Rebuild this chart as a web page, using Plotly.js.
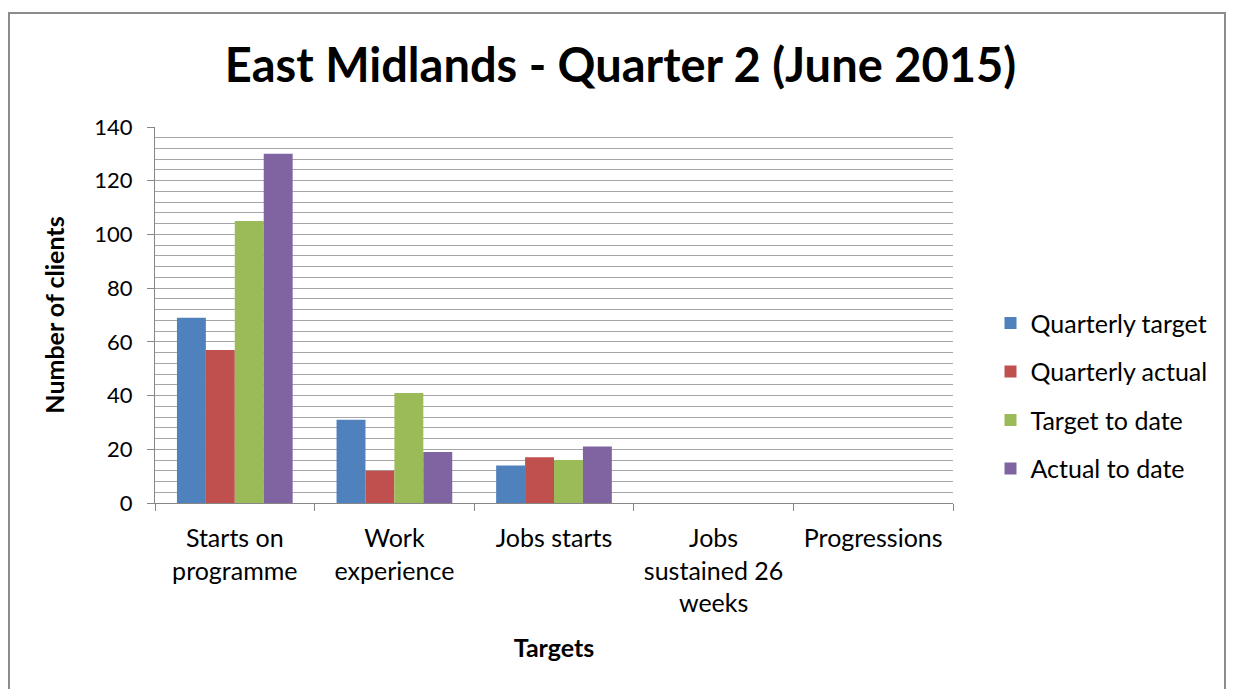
<!DOCTYPE html>
<html>
<head>
<meta charset="utf-8">
<script src="https://cdn.plot.ly/plotly-3.0.1.min.js"></script>
<style>
html, body { margin: 0; padding: 0; background: #fff; overflow: hidden; }
#frame { position: absolute; left: 8px; top: 12px; width: 1218px; height: 700px; border: 2px solid #8c8c8c; box-sizing: border-box; }
#chart { position: absolute; left: 0; top: 0; width: 1236px; height: 689px; }
</style>
</head>
<body>
<div id="frame"></div>
<div id="chart"></div>
<script>
const categories = ["Starts on<br>programme", "Work<br>experience", "Jobs starts", "Jobs<br>sustained 26<br>weeks", "Progressions"];
const seriesNames = ["Quarterly target", "Quarterly actual", "Target to date", "Actual to date"];
const quarterlyTarget = [69, 31, 14, 0, 0];
const quarterlyActual = [57, 12, 17, 0, 0];
const targetToDate = [105, 41, 16, 0, 0];
const actualToDate = [130, 19, 21, 0, 0];
const colors = ["#4f81bd", "#c0504d", "#9bbb59", "#8064a2"];
const allValues = [quarterlyTarget, quarterlyActual, targetToDate, actualToDate];

const font = "Lato, 'Open Sans', sans-serif";
const traces = allValues.map((vals, i) => ({
  type: "bar",
  name: seriesNames[i],
  x: categories,
  y: vals,
  legendgroup: "g" + i,
  marker: { color: colors[i], line: { width: 0 } },
  hoverinfo: "x+y+name"
}));

const layout = {
  width: 1236, height: 689,
  paper_bgcolor: "rgba(0,0,0,0)",
  plot_bgcolor: "#ffffff",
  margin: { l: 155, r: 283, t: 127, b: 186 },
  barmode: "group",
  bargap: 0.275,
  bargroupgap: 0,
  title: {
    text: "<b>East Midlands - Quarter 2 (June 2015)</b>",
    font: { family: font, size: 47, color: "#000" },
    x: 0.502, xanchor: "center", xref: "container",
    y: 0.905, yanchor: "middle", yref: "container"
  },
  xaxis: {
    type: "category",
    tickson: "boundaries",
    ticks: "outside", ticklen: 7, tickcolor: "#868686", tickwidth: 1,
    showline: true, linecolor: "#868686", linewidth: 1,
    showgrid: false,
    ticklabelstandoff: 13,
    tickfont: { family: font, size: 25, color: "#000" },
    title: { text: "<b>Targets</b>", font: { family: font, size: 25, color: "#000" }, standoff: 23 }
  },
  yaxis: {
    range: [0, 140],
    dtick: 20, tick0: 0,
    ticks: "outside", ticklen: 7, tickcolor: "#868686",
    showline: true, linecolor: "#868686", linewidth: 1,
    showgrid: true, gridcolor: "#a6a6a6", gridwidth: 1,
    minor: { dtick: 4, showgrid: true, gridcolor: "#a6a6a6", gridwidth: 1 },
    zeroline: false,
    ticklabelstandoff: 10,
    tickfont: { family: font, size: 22, color: "#000" },
    title: { text: "<b>Number of clients</b>", font: { family: font, size: 25, color: "#000" }, standoff: 22 }
  },
  legend: {
    x: 1.047, xanchor: "left",
    y: 0.285, yanchor: "middle",
    font: { family: font, size: 25, color: "#000" },
    traceorder: "grouped",
    tracegroupgap: 13,
    itemwidth: 30,
    bgcolor: "rgba(0,0,0,0)"
  },
  showlegend: true
};

Plotly.newPlot("chart", traces, layout, { displayModeBar: false, staticPlot: true });
</script>
</body>
</html>
